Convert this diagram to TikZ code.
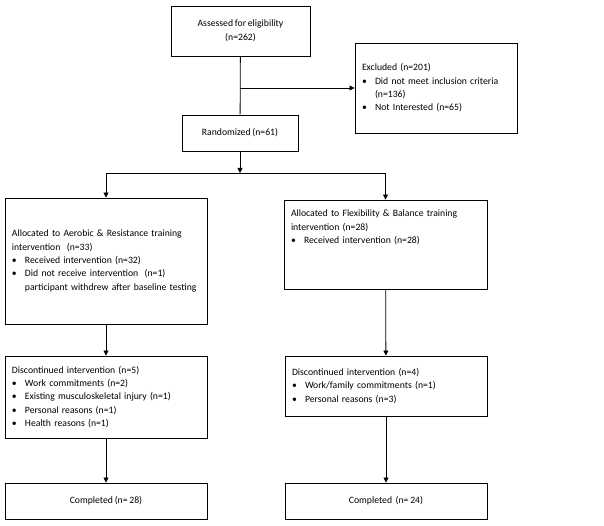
\documentclass[tikz,border=0pt]{standalone}
\usepackage{fontspec}
\setmainfont[WordSpace=0.8]{Carlito}
\usetikzlibrary{arrows.meta}
\setlength{\parindent}{0pt}
% bullet line and its continuation line
\newcommand{\itm}[1]{\par\makebox[13pt][l]{\textbullet}#1}
\newcommand{\cont}{\newline\hspace*{13pt}}

\begin{document}
\begin{tikzpicture}[x=1pt,y=-1pt,
    font=\fontsize{9.7}{13.4}\selectfont,
    box/.style={draw,line width=0.9pt,inner sep=0pt,inner xsep=7pt},
    arr/.style={line width=0.8pt,-{Triangle[length=5pt,width=5pt]}},
    ln/.style={line width=0.8pt}]
  \useasboundingbox (0,0) rectangle (604,526);

  % top part
  \node[box,align=center,minimum width=139pt,minimum height=50pt] (asses) at (240.5,31)
    {Assessed for eligibility\\(n=262)};
  \node[box,align=left,text width=148pt,minimum height=90pt] (excl) at (436,88)
    {Excluded (n=201)\itm{Did not meet inclusion criteria\cont(n=136)}\itm{Not Interested (n=65)}};
  \node[box,align=center,minimum width=116pt,minimum height=36pt] (rand) at (240,133)
    {Randomized (n=61)};

  % the two arms
  \node[box,align=left,text width=188pt,minimum height=126pt] (alloca) at (106,261)
    {Allocated to Aerobic \& Resistance training\newline intervention\ \ (n=33)
     \itm{Received intervention (n=32)}
     \itm{Did not receive intervention\ \ (n=1)\cont\mbox{participant withdrew after baseline testing}}};
  \node[box,align=left,text width=189pt,minimum height=89pt] (allocb) at (385.5,244.5)
    {Allocated to Flexibility \& Balance training\newline intervention (n=28)
     \itm{Received intervention (n=28)}\par\vspace{22pt}\null};

  \node[box,align=left,text width=188pt,minimum height=82pt] (disca) at (106,397)
    {Discontinued intervention (n=5)
     \itm{Work commitments (n=2)}
     \itm{Existing musculoskeletal injury (n=1)}
     \itm{Personal reasons (n=1)}
     \itm{Health reasons (n=1)}};
  \node[box,align=left,text width=188pt,minimum height=60pt] (discb) at (386,386)
    {Discontinued intervention (n=4)
     \itm{Work/family commitments (n=1)}
     \itm{Personal reasons (n=3)}};

  \node[box,align=center,minimum width=202pt,minimum height=36pt] (compa) at (106,501)
    {Completed (n= 28)};
  \node[box,align=center,minimum width=202pt,minimum height=36pt] (compb) at (386,501)
    {Completed\ \ (n= 24)};

  % connectors
  \coordinate (branch) at (240,88);
  \coordinate (split) at (240,173);
  \draw[ln] (asses) -- (rand);
  \draw[arr] (branch) -- (excl.west);
  \draw[arr] (rand) -- (split);
  \draw[ln] (alloca.north |- split) -- (allocb.north |- split);
  \draw[arr] (alloca.north |- split) -- (alloca.north);
  \draw[arr] (allocb.north |- split) -- (allocb.north);
  \draw[arr] (alloca) -- (disca);
  \draw[arr] (allocb) -- (discb);
  \draw[arr] (disca) -- (compa);
  \draw[arr] (discb) -- (compb);
\end{tikzpicture}
\end{document}
